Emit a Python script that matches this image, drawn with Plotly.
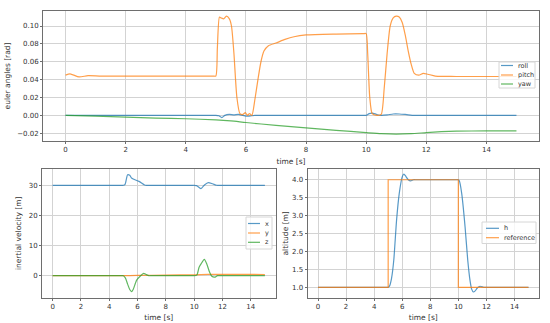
import plotly.graph_objects as go

# ---------------- data ----------------
roll_t = [0, 4.9, 5.0, 5.1, 5.2, 5.3, 5.45, 5.6, 5.75, 5.9, 6.05, 6.3, 6.5, 9.9, 10.0, 10.1, 10.2, 10.35, 10.5, 10.7, 10.9,
          11.1, 11.3, 11.6, 11.8, 15.0]
roll = [0, 0, 0, -0.0005, -0.0025, 0.0, 0.001, 0.0005, 0.001, 0.0, -0.001, 0, 0, 0, 0, 0.002, 0.0025, 0.001, 0.0, 0.0005, 0.0015,
        0.0015, 0.001, 0.0, 0.0, 0.0]

pitch_t = [0, 0.15, 0.45, 0.75, 1.2, 4.9, 5.0, 5.05, 5.12, 5.18, 5.26, 5.35, 5.45, 5.52, 5.6, 5.7, 5.8,
           5.9, 5.98, 6.05, 6.12, 6.2, 6.3, 6.4, 6.5, 6.6, 6.75, 7.0, 7.3, 7.6, 8.0, 9.0, 9.9, 10.0,
           10.05, 10.12, 10.2, 10.35, 10.5, 10.6, 10.7, 10.8, 10.9, 11.0, 11.1, 11.2, 11.3, 11.4,
           11.5, 11.6, 11.75, 11.9, 12.05, 12.3, 12.6, 13.0, 15.0]
pitch = [0.045, 0.0465, 0.043, 0.0445, 0.044, 0.044, 0.044, 0.075, 0.110, 0.109, 0.108, 0.111, 0.108, 0.100, 0.070, 0.020, 0.002,
         0.001, 0.003, 0.000, 0.002, 0.000, 0.018, 0.040, 0.060, 0.072, 0.078, 0.081, 0.085, 0.088, 0.090, 0.091, 0.0914, 0.0915,
         0.070, 0.020, 0.002, 0.000, 0.001, 0.030, 0.070, 0.100, 0.109, 0.111, 0.110, 0.104, 0.090, 0.072,
         0.057, 0.047, 0.045, 0.047, 0.046, 0.044, 0.0437, 0.0435, 0.0435]

yaw_t = [0, 1.0, 2.0, 3.0, 4.0, 5.0, 5.5, 6.0, 7.0, 8.0, 9.0, 10.0, 10.5, 11.0, 11.5, 12.0, 12.5, 13.0, 14.0, 15.0]
yaw = [0, -0.0008, -0.002, -0.003, -0.0038, -0.005, -0.0062, -0.008, -0.0112, -0.0139, -0.0167, -0.0193,
       -0.0205, -0.021, -0.0205, -0.0193, -0.0183, -0.0177, -0.0174, -0.0173]

vx_t = [0, 4.9, 5.0, 5.12, 5.3, 5.45, 5.6, 6.1, 6.5, 6.65, 6.8, 9.9, 10.0, 10.17, 10.48, 10.75, 11.0, 11.3, 11.6, 11.8, 15.0]
vx = [30, 30, 30, 30.3, 33.5, 33.3, 32.3, 31.3, 30.1, 30.0, 30.0, 30.0, 30.0, 29.9, 28.9, 30.2, 30.9, 30.5, 30.0, 30.0, 30.0]

vy_t = [0, 5.0, 6.0, 8.0, 10.0, 11.0, 11.5, 15.0]
vy = [0, 0, 0.1, 0.2, 0.3, 0.45, 0.45, 0.4]

vz_t = [0, 4.9, 5.0, 5.15, 5.3, 5.45, 5.58, 5.7, 5.85, 5.95, 6.2, 6.43, 6.6, 6.8, 7.0, 9.9, 10.0, 10.2, 10.35, 10.5,
        10.72, 10.9, 11.08, 11.25, 11.45, 11.65, 11.9, 12.1, 15.0]
vz = [0, 0, 0, -0.8, -2.8, -4.6, -5.3, -4.5, -2.5, -1.4, -0.1, 0.8, 0.4, 0.0, 0.0, 0.0, 0.0, 0.3, 2.8, 4.0,
      5.4, 3.8, 1.3, -0.2, -0.5, 0.0, 0.0, 0.0, 0.0]

h_t = [0, 4.9, 5.0, 5.1, 5.24, 5.4, 5.6, 5.79, 6.0, 6.12, 6.25, 6.43, 6.6, 6.8, 7.0, 9.9, 10.0, 10.07, 10.24, 10.48,
       10.67, 10.83, 10.95, 11.07, 11.2, 11.35, 11.55, 11.8, 12.0, 15.0]
h = [1.0, 1.0, 1.0, 1.04, 1.25, 1.76, 2.88, 3.62, 4.08, 4.16, 4.10, 4.0, 3.97, 4.0, 4.0, 4.0, 4.0, 3.97, 3.62, 2.69,
     1.76, 1.2, 0.95, 0.87, 0.90, 0.98, 1.03, 1.0, 1.0, 1.0]

ref_t = [0, 5, 5, 10, 10, 15]
ref = [1, 1, 4, 4, 1, 1]

C_BLUE, C_ORANGE, C_GREEN = "#1f77b4", "#ff7f0e", "#2ca02c"

# ---------------- figure ----------------
W, H = 550, 323
FONT = "DejaVu Sans"
OPACITY = 0.75
fig = go.Figure()

def add(x, y, name, color, xa, ya, shape="spline"):
    line = dict(color=color, width=1.2, shape=shape)
    if shape == "spline":
        line["smoothing"] = 0.6
    fig.add_trace(go.Scatter(x=x, y=y, name=name, mode="lines", line=line, opacity=OPACITY,
                             xaxis=xa, yaxis=ya, showlegend=False, hoverinfo="skip"))

add(roll_t, roll, "roll", C_BLUE, "x", "y")
add(pitch_t, pitch, "pitch", C_ORANGE, "x", "y")
add(yaw_t, yaw, "yaw", C_GREEN, "x", "y")
add(vx_t, vx, "x", C_BLUE, "x2", "y2")
add(vy_t, vy, "y", C_ORANGE, "x2", "y2")
add(vz_t, vz, "z", C_GREEN, "x2", "y2")
add(h_t, h, "h", C_BLUE, "x3", "y3")
add(ref_t, ref, "reference", C_ORANGE, "x3", "y3", shape="linear")

def px_x(p):
    return p / W

def px_y(p):
    return 1 - p / H

axis_common = dict(showgrid=True, gridcolor="#d3d3d3", gridwidth=1, zeroline=False,
                   showline=True, linecolor="#6e6e6e", linewidth=1, mirror=True,
                   ticks="outside", ticklen=2, tickcolor="#6e6e6e", tickwidth=1,
                   tickfont=dict(family=FONT, size=7, color="#333"),
                   title_font=dict(family=FONT, size=7.5, color="#333"))

xt = [0, 2, 4, 6, 8, 10, 12, 14]
fig.update_layout(
    width=W, height=H, margin=dict(l=0, r=0, t=0, b=0),
    paper_bgcolor="white", plot_bgcolor="white",
    xaxis=dict(domain=[px_x(43), px_x(539)], range=[-0.75, 15.75], tickvals=xt, anchor="y",
               title=dict(text="time [s]", standoff=5), **axis_common),
    yaxis=dict(domain=[px_y(141), px_y(11)], range=[-0.0287, 0.1168], tickvals=[-0.02, 0, 0.02, 0.04, 0.06, 0.08, 0.10],
               tickformat=".2f", anchor="x", title=dict(text="euler angles [rad]", standoff=5), **axis_common),
    xaxis2=dict(domain=[px_x(42), px_x(275.5)], range=[-0.75, 15.75], tickvals=xt, anchor="y2",
                title=dict(text="time [s]", standoff=4), **axis_common),
    yaxis2=dict(domain=[px_y(297.7), px_y(169)], range=[-7.3, 35.4], tickvals=[0, 10, 20, 30], anchor="x2",
                title=dict(text="inertial velocity [m]", standoff=6), **axis_common),
    xaxis3=dict(domain=[px_x(307.5), px_x(539)], range=[-0.75, 15.75], tickvals=xt, anchor="y3",
                title=dict(text="time [s]", standoff=4), **axis_common),
    yaxis3=dict(domain=[px_y(297.7), px_y(169)], range=[0.71, 4.30], tickvals=[1.0, 1.5, 2.0, 2.5, 3.0, 3.5, 4.0],
                tickformat=".1f", anchor="x3", title=dict(text="altitude [m]", standoff=2), **axis_common),
)

# ---------------- legends (matplotlib-style boxes) ----------------
def legend(box, entries, line_x0, line_x1, text_x):
    x0, y0, x1, y1 = box
    fig.add_shape(type="rect", xref="paper", yref="paper",
                  x0=px_x(x0), x1=px_x(x1), y0=px_y(y1), y1=px_y(y0),
                  fillcolor="rgba(255,255,255,0.8)", line=dict(color="#d6d6d6", width=1), layer="above")
    for name, color, yy in entries:
        fig.add_shape(type="line", xref="paper", yref="paper",
                      x0=px_x(line_x0), x1=px_x(line_x1), y0=px_y(yy), y1=px_y(yy),
                      line=dict(color=color, width=1.2), opacity=OPACITY, layer="above")
        fig.add_annotation(xref="paper", yref="paper", x=px_x(text_x), y=px_y(yy),
                           text=name, showarrow=False, xanchor="left", yanchor="middle",
                           font=dict(family=FONT, size=6.5, color="#333"))

legend((499, 62, 535, 88), [("roll", C_BLUE, 65.5), ("pitch", C_ORANGE, 75), ("yaw", C_GREEN, 84)], 501, 513, 516)
legend((246, 217, 272, 249), [("x", C_BLUE, 223.5), ("y", C_ORANGE, 233), ("z", C_GREEN, 242.3)], 248, 260, 263)
legend((482, 222, 536, 243.5), [("h", C_BLUE, 228.3), ("reference", C_ORANGE, 237.7)], 486, 499, 502)

fig.write_html("out.html", config={"displayModeBar": False},
               post_script="document.body.style.margin='0';document.body.style.overflow='hidden';")
